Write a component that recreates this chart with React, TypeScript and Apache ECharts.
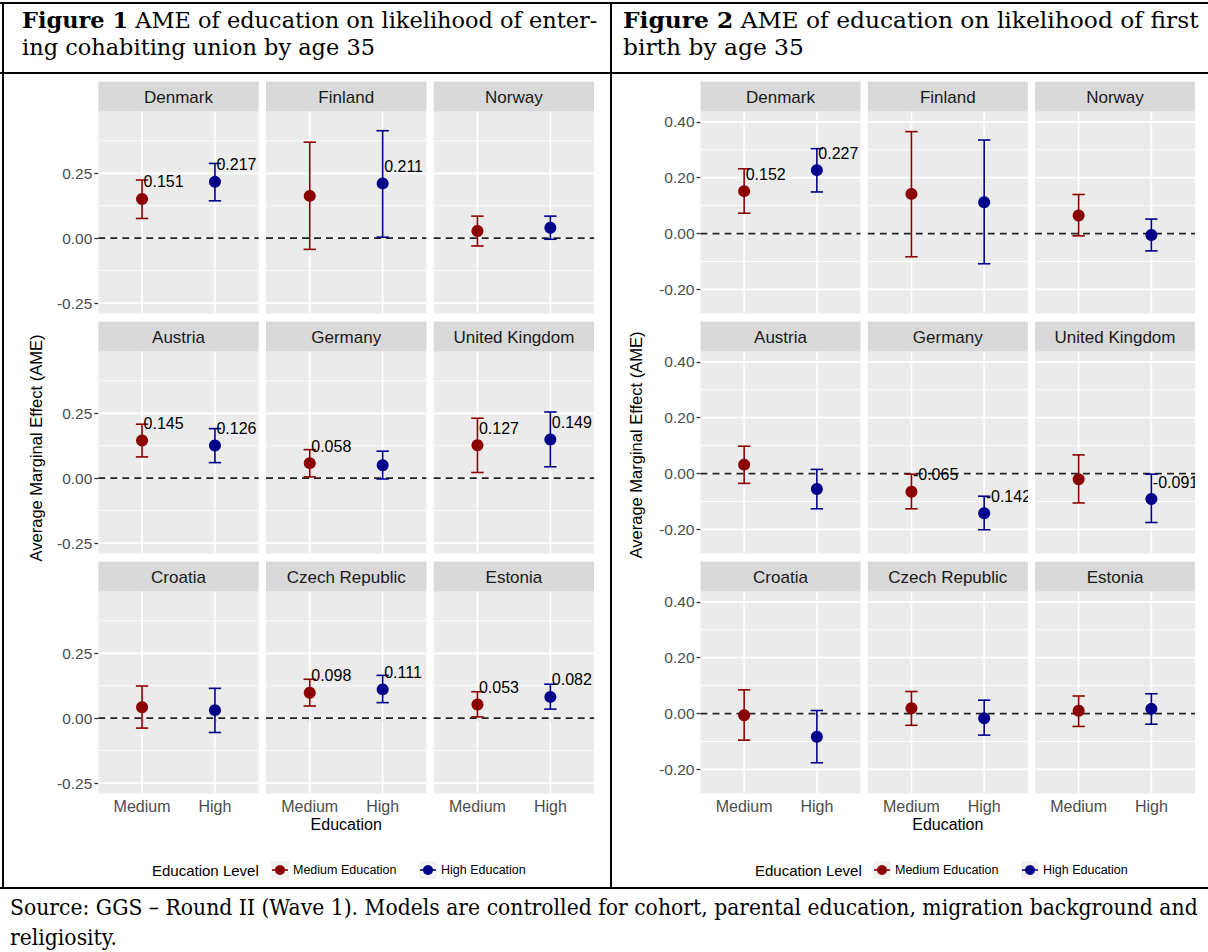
import React, { useEffect, useRef } from "react";
import * as echarts from "echarts";

// ---------------- data ----------------
const countries = [
  "Denmark", "Finland", "Norway",
  "Austria", "Germany", "United Kingdom",
  "Croatia", "Czech Republic", "Estonia",
];
const educationCategories = ["Medium", "High"];
const legendTitle = "Education Level";
const legendItems = ["Medium Education", "High Education"];
const yAxisTitle = "Average Marginal Effect (AME)";
const xAxisTitle = "Education";

const title1Bold = "Figure 1";
const title1Line1 = " AME of education on likelihood of enter-";
const title1Line2 = "ing cohabiting union by age 35";
const title2Bold = "Figure 2";
const title2Line1 = " AME of education on likelihood of first";
const title2Line2 = "birth by age 35";
const sourceLine1 =
  "Source: GGS \u2013 Round II (Wave 1). Models are controlled for cohort, parental education, migration background and";
const sourceLine2 = "religiosity.";

const fig1YTicks = [-0.25, 0, 0.25];
const fig1YMinor = [-0.125, 0.125, 0.375];
const fig2YTicks = [-0.2, 0, 0.2, 0.4];
const fig2YMinor = [-0.1, 0.1, 0.3];

// Figure 1: cohabiting union
const fig1MedEst = [0.151, 0.163, 0.028, 0.145, 0.058, 0.127, 0.042, 0.098, 0.053];
const fig1MedLo = [0.076, -0.043, -0.030, 0.082, 0.005, 0.022, -0.038, 0.047, 0.005];
const fig1MedHi = [0.224, 0.370, 0.085, 0.208, 0.110, 0.231, 0.124, 0.150, 0.102];
const fig1MedLabel = [true, false, false, true, true, true, false, true, true];
const fig1HighEst = [0.217, 0.211, 0.040, 0.126, 0.050, 0.149, 0.031, 0.111, 0.082];
const fig1HighLo = [0.144, 0.004, -0.004, 0.060, -0.003, 0.044, -0.055, 0.060, 0.035];
const fig1HighHi = [0.288, 0.414, 0.085, 0.191, 0.104, 0.255, 0.115, 0.165, 0.131];
const fig1HighLabel = [true, true, false, true, false, true, false, true, true];

// Figure 2: first birth
const fig2MedEst = [0.152, 0.142, 0.065, 0.032, -0.065, -0.020, -0.006, 0.019, 0.010];
const fig2MedLo = [0.073, -0.083, -0.008, -0.035, -0.126, -0.105, -0.095, -0.042, -0.046];
const fig2MedHi = [0.232, 0.365, 0.140, 0.098, -0.002, 0.067, 0.085, 0.079, 0.063];
const fig2MedLabel = [true, false, false, false, true, false, false, false, false];
const fig2HighEst = [0.227, 0.112, -0.005, -0.055, -0.142, -0.091, -0.083, -0.017, 0.017];
const fig2HighLo = [0.149, -0.108, -0.062, -0.126, -0.201, -0.175, -0.176, -0.077, -0.038];
const fig2HighHi = [0.304, 0.335, 0.052, 0.015, -0.081, -0.002, 0.011, 0.048, 0.071];
const fig2HighLabel = [true, false, false, false, true, true, false, false, false];

// ---------------- style / layout ----------------
const W = 1208;
const H = 952;
const SANS = '"Liberation Sans", Arial, Helvetica, sans-serif';
const SERIF = '"DejaVu Serif", "Liberation Serif", serif';
const MED_COLOR = "#8B0000";
const HIGH_COLOR = "#00008B";
const PANEL_BG = "#EBEBEB";
const STRIP_BG = "#D9D9D9";
const STRIP_TOP0 = 81.5;
const STRIP_H = 30;
const PLOT_TOP0 = 111.5;
const PLOT_H = 202;
const ROW_STEP = 240;
const TITLE_SIZE = 23;

type FigSpec = {
  cols: number[];
  panelW: number;
  yMin: number;
  yMax: number;
  ticks: number[];
  minor: number[];
  medEst: number[]; medLo: number[]; medHi: number[]; medLab: boolean[];
  highEst: number[]; highLo: number[]; highHi: number[]; highLab: boolean[];
  yTitleX: number;
  yTitleY: number;
  legendX: number[];
};

const figs: FigSpec[] = [
  {
    cols: [98.3, 266, 433.7], panelW: 160.4, yMin: -0.29, yMax: 0.488,
    ticks: fig1YTicks, minor: fig1YMinor,
    medEst: fig1MedEst, medLo: fig1MedLo, medHi: fig1MedHi, medLab: fig1MedLabel,
    highEst: fig1HighEst, highLo: fig1HighLo, highHi: fig1HighHi, highLab: fig1HighLabel,
    yTitleX: 36, yTitleY: 448, legendX: [152, 271, 293, 419, 441],
  },
  {
    cols: [700.5, 867.8, 1035], panelW: 160, yMin: -0.286, yMax: 0.437,
    ticks: fig2YTicks, minor: fig2YMinor,
    medEst: fig2MedEst, medLo: fig2MedLo, medHi: fig2MedHi, medLab: fig2MedLabel,
    highEst: fig2HighEst, highLo: fig2HighLo, highHi: fig2HighHi, highLab: fig2HighLabel,
    yTitleX: 636, yTitleY: 445, legendX: [755, 873, 895, 1021, 1043],
  },
];

let measureCtx: CanvasRenderingContext2D | null = null;
function measure(text: string, font: string): number {
  if (!measureCtx) {
    const c = document.createElement("canvas");
    measureCtx = c.getContext("2d");
  }
  if (!measureCtx) return text.length * 10;
  measureCtx.font = font;
  return measureCtx.measureText(text).width;
}

function gridRender(params: any, api: any) {
  const kind = api.value(0);
  const v = api.value(1);
  const cs = params.coordSys;
  if (kind === 0) {
    const p = api.coord([v, 0]);
    return {
      type: "line",
      shape: { x1: p[0], y1: cs.y, x2: p[0], y2: cs.y + cs.height },
      style: { stroke: "#FFFFFF", lineWidth: 1.7 },
    };
  }
  const p = api.coord([1, v]);
  if (kind === 3) {
    return {
      type: "line",
      shape: { x1: cs.x, y1: p[1], x2: cs.x + cs.width, y2: p[1] },
      style: { stroke: "#222222", lineWidth: 1.7, lineDash: [7, 5] },
    };
  }
  return {
    type: "line",
    shape: { x1: cs.x, y1: p[1], x2: cs.x + cs.width, y2: p[1] },
    style: { stroke: "#FFFFFF", lineWidth: kind === 1 ? 1.7 : 0.9 },
  };
}

function errorRender(params: any, api: any) {
  const x = api.value(0);
  const lo = api.value(1);
  const hi = api.value(2);
  const color = api.value(3) === 0 ? MED_COLOR : HIGH_COLOR;
  const pLo = api.coord([x, lo]);
  const pHi = api.coord([x, hi]);
  const half = api.coord([x + 0.085, lo])[0] - pLo[0];
  const st = { stroke: color, lineWidth: 1.6 };
  return {
    type: "group",
    children: [
      { type: "line", shape: { x1: pLo[0], y1: pLo[1], x2: pHi[0], y2: pHi[1] }, style: st },
      { type: "line", shape: { x1: pLo[0] - half, y1: pLo[1], x2: pLo[0] + half, y2: pLo[1] }, style: st },
      { type: "line", shape: { x1: pHi[0] - half, y1: pHi[1], x2: pHi[0] + half, y2: pHi[1] }, style: st },
    ],
  };
}

function labelRender(params: any, api: any) {
  const x = api.value(0);
  const v = api.value(1);
  const p = api.coord([x, v]);
  return {
    type: "text",
    x: p[0] + 1.5,
    y: p[1] - 17,
    style: {
      text: v.toFixed(3),
      fill: "#000000",
      fontSize: 16,
      fontFamily: SANS,
      align: "left",
      verticalAlign: "middle",
    },
  };
}

function textEl(x: number, y: number, text: string, size: number, color: string, extra: any = {}) {
  return {
    type: "text",
    x,
    y,
    silent: true,
    ...extra,
    style: {
      text,
      fill: color,
      fontSize: size,
      fontFamily: SANS,
      textAlign: extra.align || "left",
      align: extra.align || "left",
      textVerticalAlign: "middle",
      verticalAlign: "middle",
    },
  };
}

function richTitle(x: number, y: number, bold: string, rest: string, scaleX: number) {
  return {
    type: "text",
    x,
    y,
    scaleX,
    silent: true,
    style: {
      text: `{b|${bold}}{r|${rest}}`,
      fill: "#000000",
      fontSize: TITLE_SIZE,
      fontFamily: SERIF,
      textAlign: "left",
      align: "left",
      textVerticalAlign: "middle",
      verticalAlign: "middle",
      rich: {
        b: { fontWeight: "bold", fontSize: TITLE_SIZE, fontFamily: SERIF, fill: "#000000" },
        r: { fontWeight: "normal", fontSize: TITLE_SIZE, fontFamily: SERIF, fill: "#000000" },
      },
    },
  };
}

function serifLine(x: number, y: number, text: string, scaleX: number) {
  return {
    type: "text",
    x,
    y,
    scaleX,
    silent: true,
    style: {
      text,
      fill: "#000000",
      fontSize: TITLE_SIZE,
      fontFamily: SERIF,
      textAlign: "left",
      align: "left",
      textVerticalAlign: "middle",
      verticalAlign: "middle",
    },
  };
}

function buildOption() {
  const grids: any[] = [];
  const xAxes: any[] = [];
  const yAxes: any[] = [];
  const series: any[] = [];
  const graphics: any[] = [];

  figs.forEach((fig) => {
    countries.forEach((name, i) => {
      const r = Math.floor(i / 3);
      const c = i % 3;
      const left = fig.cols[c];
      const top = PLOT_TOP0 + r * ROW_STEP;
      const gi = grids.length;
      grids.push({
        left, top, width: fig.panelW, height: PLOT_H,
        show: true, backgroundColor: PANEL_BG, borderWidth: 0,
      });
      xAxes.push({
        type: "value", gridIndex: gi, min: 0.4, max: 2.6,
        splitLine: { show: false },
        axisLine: { show: false },
        axisTick: { show: r === 2, customValues: [1, 2], length: 4, lineStyle: { color: "#333333", width: 1.3 } },
        axisLabel: {
          show: r === 2, customValues: [1, 2],
          formatter: (v: number) => educationCategories[Math.round(v) - 1] || "",
          margin: 5, fontSize: 16, color: "#4D4D4D", fontFamily: SANS,
        },
      });
      yAxes.push({
        type: "value", gridIndex: gi, min: fig.yMin, max: fig.yMax,
        splitLine: { show: false },
        axisLine: { show: false },
        axisTick: { show: c === 0, customValues: fig.ticks, length: 4, lineStyle: { color: "#333333", width: 1.3 } },
        axisLabel: {
          show: c === 0, customValues: fig.ticks,
          formatter: (v: number) => v.toFixed(2),
          margin: 6, fontSize: 15.5, color: "#4D4D4D", fontFamily: SANS,
        },
      });

      const gridData: number[][] = [
        [0, 1], [0, 2],
        ...fig.minor.map((v) => [2, v]),
        ...fig.ticks.map((v) => [1, v]),
        [3, 0],
      ];
      series.push({
        type: "custom", xAxisIndex: gi, yAxisIndex: gi, silent: true, z: 1,
        clip: true, data: gridData, renderItem: gridRender,
      });
      series.push({
        type: "custom", xAxisIndex: gi, yAxisIndex: gi, silent: true, z: 2,
        data: [
          [1, fig.medLo[i], fig.medHi[i], 0],
          [2, fig.highLo[i], fig.highHi[i], 1],
        ],
        renderItem: errorRender,
      });
      series.push({
        type: "scatter", xAxisIndex: gi, yAxisIndex: gi, silent: true, z: 3,
        symbol: "circle", symbolSize: 12,
        itemStyle: { opacity: 1 },
        data: [
          { value: [1, fig.medEst[i]], itemStyle: { color: MED_COLOR, opacity: 1 } },
          { value: [2, fig.highEst[i]], itemStyle: { color: HIGH_COLOR, opacity: 1 } },
        ],
      });
      const labData: number[][] = [];
      if (fig.medLab[i]) labData.push([1, fig.medEst[i]]);
      if (fig.highLab[i]) labData.push([2, fig.highEst[i]]);
      if (labData.length) {
        series.push({
          type: "custom", xAxisIndex: gi, yAxisIndex: gi, silent: true, z: 4,
          clip: true, data: labData, renderItem: labelRender,
        });
      }

      // strip
      const sTop = STRIP_TOP0 + r * ROW_STEP;
      graphics.push({
        type: "rect", silent: true,
        shape: { x: left, y: sTop, width: fig.panelW, height: STRIP_H },
        style: { fill: STRIP_BG },
      });
      graphics.push(textEl(left + fig.panelW / 2, sTop + STRIP_H / 2 + 0.5, name, 17, "#1A1A1A", { align: "center" }));
    });

    // axis titles
    graphics.push(textEl(fig.yTitleX, fig.yTitleY, yAxisTitle, 16.5, "#000000", { align: "center", rotation: Math.PI / 2 }));
    graphics.push(textEl(fig.cols[1] + fig.panelW / 2, 824, xAxisTitle, 16, "#000000", { align: "center" }));

    // legend
    const ly = 870;
    const [lt, k1, t1, k2, t2] = fig.legendX;
    graphics.push(textEl(lt, ly, legendTitle, 15, "#000000"));
    [[k1, MED_COLOR], [k2, HIGH_COLOR]].forEach(([kx, col]: any) => {
      graphics.push({ type: "rect", silent: true, shape: { x: kx, y: ly - 9, width: 18, height: 18 }, style: { fill: "#F2F2F2" } });
      graphics.push({ type: "line", silent: true, shape: { x1: kx + 1, y1: ly, x2: kx + 17, y2: ly }, style: { stroke: col, lineWidth: 1.6 } });
      graphics.push({ type: "circle", silent: true, shape: { cx: kx + 9, cy: ly, r: 5 }, style: { fill: col } });
    });
    graphics.push(textEl(t1, ly, legendItems[0], 12.5, "#000000"));
    graphics.push(textEl(t2, ly, legendItems[1], 12.5, "#000000"));
  });

  // titles (horizontally scaled to reproduce the justified widths)
  const boldFont = `bold ${TITLE_SIZE}px ${SERIF}`;
  const regFont = `${TITLE_SIZE}px ${SERIF}`;
  const t1w = measure(title1Bold, boldFont) + measure(title1Line1, regFont);
  const t2w = measure(title2Bold, boldFont) + measure(title2Line1, regFont);
  const s1 = 576 / t1w;
  const s2 = 576 / t2w;
  graphics.push(richTitle(22, 20, title1Bold, title1Line1, s1));
  graphics.push(serifLine(22, 47, title1Line2, s1));
  graphics.push(richTitle(623, 20, title2Bold, title2Line1, s2));
  graphics.push(serifLine(623, 47, title2Line2, s2));
  const sw = measure(sourceLine1, regFont);
  const ss = 1188 / sw;
  graphics.push(serifLine(10, 907, sourceLine1, ss));
  graphics.push(serifLine(10, 937, sourceLine2, ss));

  // table borders
  const border = (x1: number, y1: number, x2: number, y2: number) => ({
    type: "line", silent: true, shape: { x1, y1, x2, y2 }, style: { stroke: "#000000", lineWidth: 2 },
  });
  graphics.push(border(0, 3, W, 3));
  graphics.push(border(3, 2, 3, 889));
  graphics.push(border(0, 73, W, 73));
  graphics.push(border(611, 2, 611, 889));
  graphics.push(border(0, 888, W, 888));

  return {
    animation: false,
    backgroundColor: "#FFFFFF",
    grid: grids,
    xAxis: xAxes,
    yAxis: yAxes,
    series,
    graphic: { elements: graphics },
  };
}

export default function App() {
  const ref = useRef<HTMLDivElement>(null);
  useEffect(() => {
    if (!ref.current) return;
    const chart = echarts.init(ref.current, undefined, { renderer: "svg", width: W, height: H });
    chart.setOption(buildOption() as any);
    return () => {
      chart.dispose();
    };
  }, []);
  return (
    <div
      ref={ref}
      style={{ position: "absolute", left: 0, top: 0, width: W, height: H, background: "#FFFFFF" }}
    />
  );
}
